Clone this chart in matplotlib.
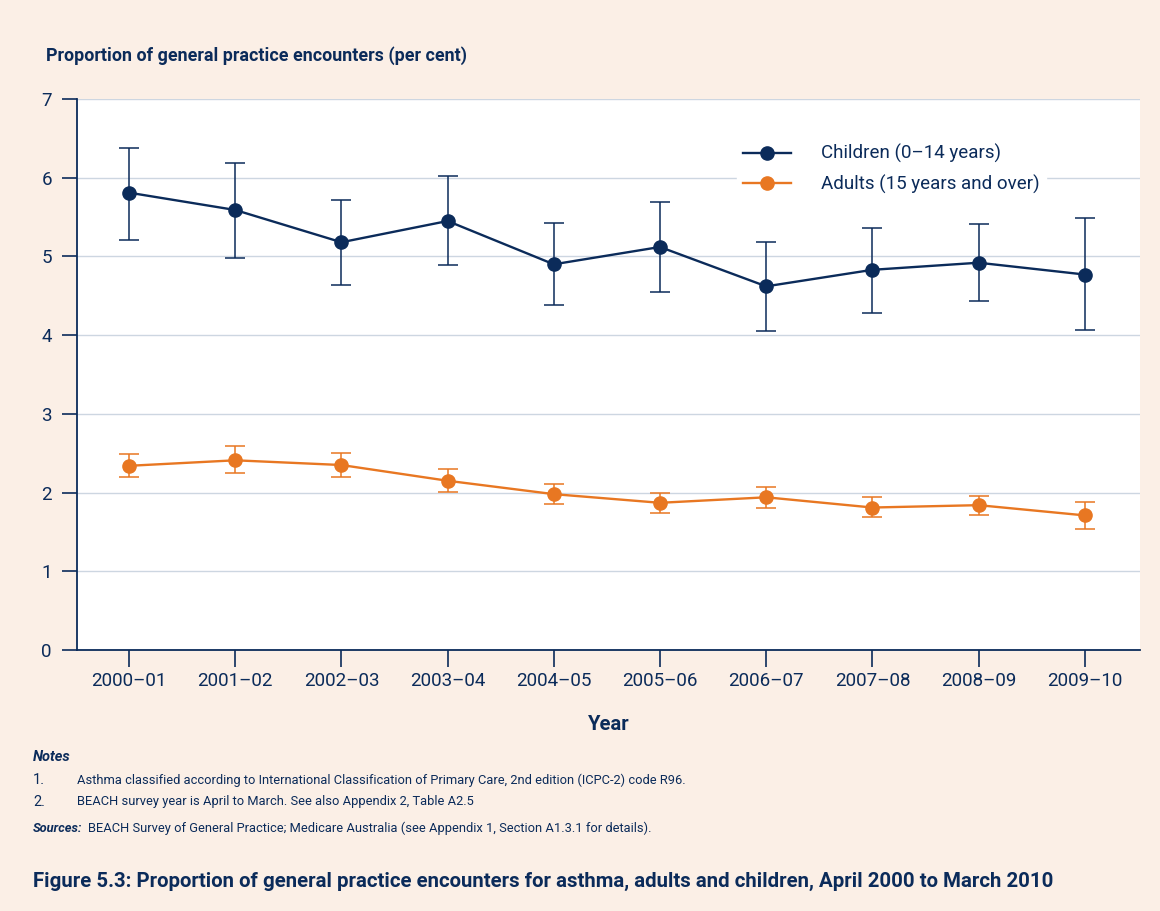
import matplotlib
matplotlib.use("Agg")
import matplotlib.pyplot as plt

years = ["2000–01", "2001–02", "2002–03", "2003–04", "2004–05",
         "2005–06", "2006–07", "2007–08", "2008–09", "2009–10"]

children = [5.81, 5.59, 5.18, 5.45, 4.90, 5.12, 4.62, 4.83, 4.92, 4.77]
children_lo = [5.21, 4.98, 4.64, 4.89, 4.38, 4.55, 4.05, 4.28, 4.43, 4.07]
children_hi = [6.38, 6.19, 5.72, 6.02, 5.42, 5.69, 5.18, 5.36, 5.41, 5.49]

adults = [2.34, 2.41, 2.35, 2.15, 1.98, 1.87, 1.94, 1.81, 1.84, 1.71]
adults_lo = [2.20, 2.25, 2.20, 2.01, 1.85, 1.74, 1.80, 1.69, 1.72, 1.54]
adults_hi = [2.49, 2.59, 2.50, 2.30, 2.11, 1.99, 2.07, 1.94, 1.96, 1.88]

y_ticks = [0, 1, 2, 3, 4, 5, 6, 7]

NAVY = "#0b2b5a"
ORANGE = "#e87722"
BG = "#fbefe6"
GRID = "#cdd6e1"

plt.rcParams["font.family"] = ["Roboto", "DejaVu Sans"]

W, H = 1160, 911
fig = plt.figure(figsize=(W / 100, H / 100), dpi=100, facecolor=BG)
ax = fig.add_axes([77 / W, 1 - 650 / H, (1140 - 77) / W, (650 - 99) / H])
ax.set_facecolor("white")

x = list(range(len(years)))

err_c = [[c - lo for c, lo in zip(children, children_lo)],
         [hi - c for c, hi in zip(children, children_hi)]]
err_a = [[a - lo for a, lo in zip(adults, adults_lo)],
         [hi - a for a, hi in zip(adults, adults_hi)]]

ax.errorbar(x, children, yerr=err_c, fmt="none", ecolor=NAVY, elinewidth=1.1,
            capsize=7, capthick=1.1, zorder=3)
ax.errorbar(x, adults, yerr=err_a, fmt="none", ecolor=ORANGE, elinewidth=1.1,
            capsize=7, capthick=1.1, zorder=3)
ax.plot(x, children, color=NAVY, lw=1.7, marker="o", ms=9.5, zorder=4,
        label="Children (0–14 years)")
ax.plot(x, adults, color=ORANGE, lw=1.7, marker="o", ms=9.5, zorder=4,
        label="Adults (15 years and over)")

ax.set_xlim(-0.49, 9.52)
ax.set_ylim(0, 7)
ax.set_yticks(y_ticks)
ax.set_xticks(x)
ax.set_xticklabels(years)
ax.grid(axis="y", color=GRID, lw=1)
ax.set_axisbelow(True)

for s in ["top", "right"]:
    ax.spines[s].set_visible(False)
for s in ["left", "bottom"]:
    ax.spines[s].set_color(NAVY)
    ax.spines[s].set_linewidth(1.3)

ax.tick_params(axis="y", direction="out", length=11, width=1.2, color=NAVY,
               labelcolor=NAVY, labelsize=13.5, pad=7)
ax.tick_params(axis="x", direction="out", length=12, width=1.2, color=NAVY,
               labelcolor=NAVY, labelsize=13.5, pad=4)

ax.set_xlabel("Year", color=NAVY, fontsize=14.5, fontweight="bold", labelpad=18)

leg = ax.legend(loc="upper left", bbox_to_anchor=(0.612, 0.945), frameon=True,
                facecolor="white", edgecolor="white", framealpha=1,
                fontsize=13.5, handlelength=2.6, handletextpad=1.6,
                labelspacing=0.6, borderpad=0.3, fancybox=False)
for t in leg.get_texts():
    t.set_color(NAVY)

renderer = fig.canvas.get_renderer()


def fit(t, width_px):
    # shrink/grow a text so it spans the same width as in the reference
    w = t.get_window_extent(renderer).width
    t.set_fontsize(t.get_fontsize() * width_px / w)


ylab = fig.text(46 / W, 1 - 56 / H, "Proportion of general practice encounters (per cent)",
                color=NAVY, fontsize=14, fontweight="bold", va="center", ha="left")
fit(ylab, 421)

fig.text(33 / W, 1 - 757 / H, "Notes", color=NAVY, fontsize=10.5,
         fontweight="bold", fontstyle="italic", va="center")
fig.text(33 / W, 1 - 780 / H, "1.", color=NAVY, fontsize=10.5, va="center")
n1 = fig.text(77 / W, 1 - 780 / H,
              "Asthma classified according to International Classification of Primary Care, "
              "2nd edition (ICPC-2) code R96.", color=NAVY, fontsize=10.5, va="center")
fit(n1, 610)
fig.text(33 / W, 1 - 802 / H, "2.", color=NAVY, fontsize=10.5, va="center")
n2 = fig.text(77 / W, 1 - 802 / H,
              "BEACH survey year is April to March. See also Appendix 2, Table A2.5",
              color=NAVY, fontsize=n1.get_fontsize(), va="center")
src = fig.text(33 / W, 1 - 828 / H, "Sources:", color=NAVY, fontsize=n1.get_fontsize(),
               fontweight="bold", fontstyle="italic", va="center")
src_end = src.get_window_extent(renderer).x1
fig.text((src_end + 5) / W, 1 - 828 / H,
         "BEACH Survey of General Practice; Medicare Australia "
         "(see Appendix 1, Section A1.3.1 for details).",
         color=NAVY, fontsize=n1.get_fontsize(), va="center")

title = fig.text(33 / W, 1 - 881 / H,
                 "Figure 5.3: Proportion of general practice encounters for asthma, "
                 "adults and children, April 2000 to March 2010",
                 color=NAVY, fontsize=16, fontweight="bold", va="center")
fit(title, 1020)

fig.savefig("out.png", dpi=100, facecolor=BG)
